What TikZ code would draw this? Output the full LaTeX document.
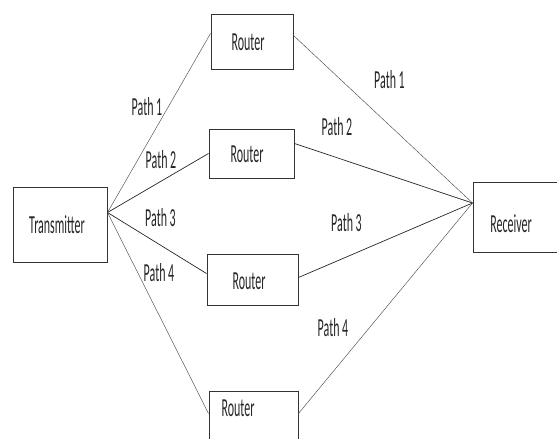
\documentclass[tikz,border=0pt]{standalone}
\usepackage{fontspec}
\setmainfont{Carlito}[FakeStretch=0.46]
\tikzset{
  box/.style={draw=black!80, line width=1pt, rectangle, inner sep=0pt},
  lbl/.style={font=\fontsize{26}{28}\selectfont, text=black!85, inner sep=0pt},
  link/.style={draw=black!85, line width=0.7pt},
  thin link/.style={draw=black!70, line width=0.45pt}
}
\begin{document}
\begin{tikzpicture}[x=1pt, y=-1pt]
\useasboundingbox (0,0) rectangle (557,439);
% Boxes
\node[box, minimum width=94, minimum height=75] (tx) at (60,224.5) {};
\node[box, minimum width=82, minimum height=55] (r1) at (252,41.5) {};
\node[box, minimum width=85, minimum height=49] (r2) at (251.5,153.5) {};
\node[box, minimum width=91, minimum height=51] (r3) at (252.5,279.5) {};
\node[box, minimum width=89, minimum height=60, anchor=north] (r4) at (253.5,391) {};
\node[box, minimum width=92, minimum height=70] (rx) at (519,217) {};
% Box texts
\node[lbl] (tx text) at (57,225) {Transmitter};
\node[lbl] (r1 text) at (248,42) {Router};
\node[lbl] (r2 text) at (247,154) {Router};
\node[lbl] (r3 text) at (249,281) {Router};
\node[lbl] (r4 text) at (238,408) {Router};
\node[lbl] (rx text) at (511,224) {Receiver};
% Hubs
\coordinate (tx hub) at ([yshift=12]tx.east);
\coordinate (rx hub) at ([yshift=14]rx.west);
% Left links
\draw[thin link] (tx hub) -- ([yshift=8]r1.west);
\draw[link] (tx hub) -- (r2.west);
\draw[link] (tx hub) -- ([yshift=6]r3.west);
\draw[thin link] (tx hub) -- ([yshift=8]r4.west);
% Right links
\draw[thin link] ([yshift=6]r1.east) -- (rx hub);
\draw[link] ([yshift=10]r2.east) -- (rx hub);
\draw[link] ([yshift=2]r3.east) -- (rx hub);
\draw[thin link] ([yshift=8]r4.east) -- (rx hub);
% Labels
\node[lbl] (p1 left) at (147,107) {Path 1};
\node[lbl] (p2 left) at (161,160) {Path 2};
\node[lbl] (p3 left) at (160.5,218) {Path 3};
\node[lbl] (p4 left) at (159,273) {Path 4};
\node[lbl] (p1 right) at (389.5,80) {Path 1};
\node[lbl] (p2 right) at (337,127) {Path 2};
\node[lbl] (p3 right) at (346.5,223) {Path 3};
\node[lbl] (p4 right) at (333,328) {Path 4};
\end{tikzpicture}
\end{document}
